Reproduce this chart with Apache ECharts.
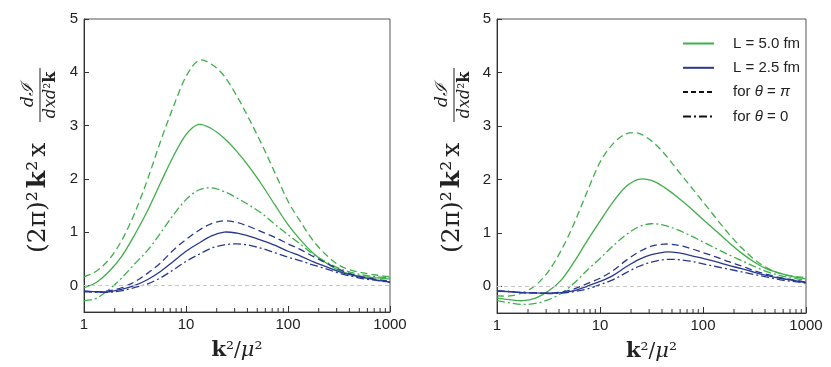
<!DOCTYPE html>
<html>
<head>
<meta charset="utf-8">
<script src="https://cdn.jsdelivr.net/npm/echarts@6/dist/echarts.min.js"></script>
<style>
  html, body { margin: 0; padding: 0; background: #fff; }
  #chart { width: 831px; height: 367px; }
</style>
</head>
<body>
<div id="chart"></div>
<script>
// k^2/mu^2 sample points (log axis, 1/8 decade apart)
const ks = [1, 1.33, 1.78, 2.37, 3.16, 4.22, 5.62, 7.5, 10, 13.3, 17.8, 23.7, 31.6, 42.2, 56.2, 75, 100, 133, 178, 237, 316, 422, 562, 750, 1000]
const minorTicks = [2, 3, 4, 5, 6, 7, 8, 9, 20, 30, 40, 50, 60, 70, 80, 90, 200, 300, 400, 500, 600, 700, 800, 900]
const yTicks = [0, 1, 2, 3, 4, 5]

// left panel
const greenPiLeft = [0.16, 0.27, 0.50, 0.86, 1.37, 2.00, 2.70, 3.35, 3.92, 4.22, 4.15, 3.93, 3.55, 3.10, 2.62, 2.10, 1.58, 1.19, 0.83, 0.57, 0.38, 0.28, 0.23, 0.19, 0.16]
const greenLeft = [-0.05, 0.06, 0.27, 0.56, 0.96, 1.41, 1.92, 2.42, 2.83, 3.02, 2.94, 2.76, 2.51, 2.21, 1.87, 1.50, 1.14, 0.85, 0.60, 0.42, 0.28, 0.20, 0.16, 0.14, 0.12]
const green0Left = [-0.29, -0.24, -0.07, 0.15, 0.41, 0.66, 0.98, 1.32, 1.61, 1.79, 1.83, 1.76, 1.64, 1.50, 1.34, 1.14, 0.95, 0.77, 0.58, 0.44, 0.32, 0.24, 0.19, 0.16, 0.14]
const bluePiLeft = [-0.11, -0.12, -0.10, -0.04, 0.07, 0.23, 0.42, 0.66, 0.86, 1.03, 1.16, 1.21, 1.18, 1.10, 1.00, 0.90, 0.78, 0.67, 0.54, 0.42, 0.30, 0.21, 0.15, 0.11, 0.075]
const blueLeft = [-0.11, -0.12, -0.12, -0.07, 0.00, 0.11, 0.26, 0.45, 0.64, 0.79, 0.93, 1.00, 0.98, 0.92, 0.84, 0.75, 0.64, 0.55, 0.44, 0.35, 0.26, 0.19, 0.14, 0.10, 0.06]
const blue0Left = [-0.12, -0.13, -0.13, -0.10, -0.04, 0.03, 0.14, 0.29, 0.45, 0.58, 0.70, 0.76, 0.78, 0.75, 0.69, 0.61, 0.53, 0.46, 0.38, 0.31, 0.23, 0.17, 0.12, 0.09, 0.055]

// right panel
const greenPiRight = [-0.18, -0.18, -0.12, 0.02, 0.28, 0.68, 1.18, 1.77, 2.32, 2.66, 2.85, 2.86, 2.72, 2.48, 2.18, 1.88, 1.58, 1.28, 0.98, 0.72, 0.50, 0.34, 0.24, 0.19, 0.16]
const greenRight = [-0.22, -0.25, -0.27, -0.22, -0.09, 0.12, 0.46, 0.85, 1.22, 1.57, 1.86, 2.00, 1.98, 1.85, 1.67, 1.47, 1.25, 1.04, 0.82, 0.62, 0.45, 0.32, 0.24, 0.18, 0.14]
const green0Right = [-0.27, -0.31, -0.34, -0.32, -0.25, -0.13, 0.06, 0.30, 0.52, 0.75, 0.96, 1.11, 1.17, 1.14, 1.06, 0.95, 0.83, 0.71, 0.59, 0.48, 0.37, 0.27, 0.20, 0.15, 0.11]
const bluePiRight = [-0.09, -0.10, -0.12, -0.125, -0.13, -0.11, -0.05, 0.05, 0.15, 0.29, 0.48, 0.64, 0.75, 0.79, 0.77, 0.71, 0.63, 0.55, 0.46, 0.38, 0.29, 0.22, 0.16, 0.12, 0.08]
const blueRight = [-0.09, -0.10, -0.12, -0.125, -0.13, -0.12, -0.08, 0.00, 0.09, 0.20, 0.36, 0.50, 0.59, 0.64, 0.63, 0.58, 0.52, 0.46, 0.39, 0.33, 0.26, 0.20, 0.15, 0.11, 0.07]
const blue0Right = [-0.09, -0.10, -0.12, -0.125, -0.135, -0.13, -0.10, -0.05, 0.03, 0.12, 0.25, 0.37, 0.45, 0.50, 0.50, 0.47, 0.42, 0.37, 0.32, 0.27, 0.22, 0.17, 0.12, 0.09, 0.06]

const legendNames = ['L = 5.0 fm', 'L = 2.5 fm', 'for θ = π', 'for θ = 0']

const GREEN = '#3fae49'
const BLUE = '#283891'
const DASH = [7, 4]
const DASHDOT = [8, 3, 2, 3]
const Y_MIN = -0.5

var chart = echarts.init(document.getElementById('chart'))

// smooth curve through the points (cubic Hermite in screen space, positions from api.coord)
function curve(vals, idx, color, dash) {
  return {
    type: 'custom',
    xAxisIndex: idx,
    yAxisIndex: idx,
    silent: true,
    data: ks.map((k, i) => [k, vals[i]]),
    renderItem: function (params, api) {
      if (params.dataIndex !== 0) return
      const p = ks.map((k, i) => api.coord([k, vals[i]]))
      const n = p.length
      const m = p.map((pt, i) => {
        const a = p[Math.max(i - 1, 0)]
        const b = p[Math.min(i + 1, n - 1)]
        return (b[1] - a[1]) / (b[0] - a[0])
      })
      let d = 'M' + p[0][0] + ',' + p[0][1]
      for (let i = 0; i < n - 1; i++) {
        const h = (p[i + 1][0] - p[i][0]) / 3
        d += 'C' + (p[i][0] + h) + ',' + (p[i][1] + m[i] * h) + ',' +
          (p[i + 1][0] - h) + ',' + (p[i + 1][1] - m[i + 1] * h) + ',' +
          p[i + 1][0] + ',' + p[i + 1][1]
      }
      return {
        type: 'path',
        shape: { pathData: d },
        style: { fill: 'none', stroke: color, lineWidth: 1.3, lineDash: dash }
      }
    },
    z: 3
  }
}

// empty line series, only for the legend entries
function legendEntry(name, color, type) {
  return {
    name: name, type: 'line', xAxisIndex: 1, yAxisIndex: 1, data: [], symbol: 'none',
    lineStyle: { color: color, width: 1.3, type: type }, itemStyle: { color: color }
  }
}

function zeroLine(idx) {
  return {
    type: 'line',
    xAxisIndex: idx,
    yAxisIndex: idx,
    data: [],
    silent: true,
    markLine: {
      symbol: 'none',
      silent: true,
      label: { show: false },
      lineStyle: { color: '#c8c8c8', type: [4, 3], width: 1 },
      data: [{ yAxis: 0 }]
    },
    z: 1
  }
}

// short minor ticks on the log axis (drawn inward from the bottom edge)
function minorTickSeries(idx) {
  return {
    type: 'custom',
    xAxisIndex: idx,
    yAxisIndex: idx,
    silent: true,
    data: minorTicks.map(v => [v, Y_MIN]),
    renderItem: function (params, api) {
      const p = api.coord([api.value(0), api.value(1)])
      return {
        type: 'line',
        shape: { x1: p[0], y1: p[1], x2: p[0], y2: p[1] - 4 },
        style: { stroke: '#333', lineWidth: 1 }
      }
    },
    z: 4
  }
}

function xAxis(idx) {
  return {
    type: 'log',
    gridIndex: idx,
    min: 1,
    max: 1000,
    logBase: 10,
    name: '{k|k}{t|²/}{mu|μ}{t|²}',
    nameLocation: 'middle',
    nameGap: 28,
    nameTextStyle: {
      rich: {
        k: { fontFamily: 'DejaVu Serif', fontWeight: 'bold', fontSize: 21, color: '#222' },
        t: { fontFamily: 'DejaVu Serif', fontSize: 20, color: '#222' },
        mu: { fontFamily: 'DejaVu Serif', fontStyle: 'italic', fontSize: 21, color: '#222' }
      }
    },
    axisLine: { onZero: false, lineStyle: { color: '#333', width: 1 } },
    axisTick: { inside: true, length: 6, lineStyle: { color: '#333' } },
    axisLabel: {
      fontFamily: 'Liberation Sans', fontSize: 15, color: '#222', margin: 5,
      formatter: v => String(v)
    },
    splitLine: { show: false }
  }
}

function yAxis(idx) {
  return {
    type: 'value',
    gridIndex: idx,
    min: Y_MIN,
    max: 5,
    splitNumber: 5,
    axisLine: { show: true, onZero: false, lineStyle: { color: '#333', width: 1 } },
    axisTick: { inside: true, length: 5, lineStyle: { color: '#333' } },
    axisLabel: {
      fontFamily: 'Liberation Sans', fontSize: 15, color: '#222', margin: 6,
      formatter: v => (yTicks.indexOf(v) >= 0 ? String(v) : '')
    },
    splitLine: { show: false }
  }
}

// rotated y-axis title: (2π)²k²x dℐ/(dxd²k)
function yTitle(cx, cy) {
  return {
    type: 'group',
    x: cx,
    y: cy,
    rotation: Math.PI / 2,
    children: [
      {
        type: 'text',
        x: -91, y: -2,
        style: {
          text: '{r|(2π)}{s|²}{b|k}{s|²}{x|x}',
          align: 'left', verticalAlign: 'middle',
          rich: {
            r: { fontFamily: 'DejaVu Serif', fontSize: 25, fill: '#222' },
            s: { fontFamily: 'DejaVu Serif', fontSize: 25, fill: '#222', padding: [0, 2, 0, 0] },
            b: { fontFamily: 'DejaVu Serif', fontWeight: 'bold', fontSize: 25, fill: '#222', padding: [0, 0, 0, 1] },
            x: { fontFamily: 'DejaVu Serif', fontSize: 25, fill: '#222', padding: [0, 0, 0, 2] }
          }
        }
      },
      {
        type: 'line',
        shape: { x1: 40, y1: 0, x2: 94, y2: 0 },
        style: { stroke: '#222', lineWidth: 1 }
      },
      {
        type: 'text',
        x: 67, y: -11,
        style: {
          text: '{i|dℐ}',
          align: 'center', verticalAlign: 'middle',
          rich: { i: { fontFamily: 'DejaVu Serif', fontStyle: 'italic', fontSize: 17, fill: '#222' } }
        }
      },
      {
        type: 'text',
        x: 67, y: 11,
        style: {
          text: '{i|dxd}{r|²}{b|k}',
          align: 'center', verticalAlign: 'middle',
          rich: {
            i: { fontFamily: 'DejaVu Serif', fontStyle: 'italic', fontSize: 16, fill: '#222' },
            r: { fontFamily: 'DejaVu Serif', fontSize: 15, fill: '#222' },
            b: { fontFamily: 'DejaVu Serif', fontWeight: 'bold', fontSize: 16, fill: '#222' }
          }
        }
      }
    ]
  }
}

chart.setOption({
  animation: false,
  backgroundColor: '#fff',
  grid: [
    { left: 84, top: 19, width: 306, height: 293, show: true, borderColor: '#555', borderWidth: 1 },
    { left: 497, top: 19, width: 309, height: 295, show: true, borderColor: '#555', borderWidth: 1 }
  ],
  xAxis: [xAxis(0), xAxis(1)],
  yAxis: [yAxis(0), yAxis(1)],
  legend: {
    data: legendNames,
    orient: 'vertical',
    left: 677,
    top: 31,
    itemWidth: 31,
    itemHeight: 14,
    itemGap: 9.3,
    itemStyle: { opacity: 0, borderWidth: 0 },
    textStyle: {
      fontFamily: 'Liberation Sans', fontSize: 15, color: '#222', padding: [0, 0, 0, 14],
      rich: {
        n: { fontFamily: 'Liberation Sans', fontSize: 15, color: '#222' },
        i: { fontFamily: 'Liberation Sans', fontStyle: 'italic', fontSize: 15, color: '#222' }
      }
    },
    formatter: function (name) {
      if (name === 'for θ = π') return '{n|for }{i|θ}{n| = }{i|π}'
      if (name === 'for θ = 0') return '{n|for }{i|θ}{n| = 0}'
      return '{n|' + name + '}'
    }
  },
  graphic: [yTitle(40, 162), yTitle(454, 162)],
  series: [
    zeroLine(0),
    curve(greenLeft, 0, GREEN, null),
    curve(greenPiLeft, 0, GREEN, DASH),
    curve(green0Left, 0, GREEN, DASHDOT),
    curve(blueLeft, 0, BLUE, null),
    curve(bluePiLeft, 0, BLUE, DASH),
    curve(blue0Left, 0, BLUE, DASHDOT),
    minorTickSeries(0),
    zeroLine(1),
    curve(greenRight, 1, GREEN, null),
    curve(greenPiRight, 1, GREEN, DASH),
    curve(green0Right, 1, GREEN, DASHDOT),
    curve(blueRight, 1, BLUE, null),
    curve(bluePiRight, 1, BLUE, DASH),
    curve(blue0Right, 1, BLUE, DASHDOT),
    minorTickSeries(1),
    legendEntry('L = 5.0 fm', GREEN, 'solid'),
    legendEntry('L = 2.5 fm', BLUE, 'solid'),
    legendEntry('for θ = π', '#111', [5, 3]),
    legendEntry('for θ = 0', '#111', [8, 3, 2, 3])
  ]
})
</script>
</body>
</html>
